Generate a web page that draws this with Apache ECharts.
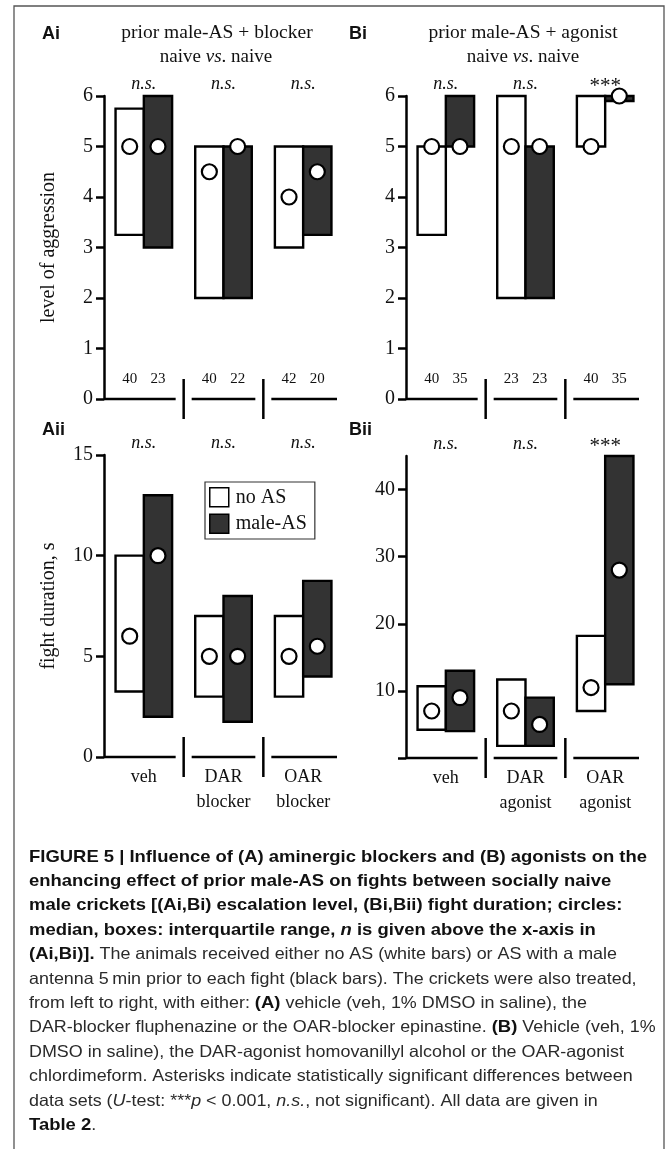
<!DOCTYPE html>
<html><head><meta charset="utf-8">
<script src="https://cdn.jsdelivr.net/npm/echarts@6/dist/echarts.min.js"></script>
<style>html,body{margin:0;padding:0;background:#fff}#c{width:669px;height:1149px}</style>
</head><body><div id="c"></div>
<script>
// ---------- data ----------
const categoriesA = ['veh', 'DAR\nblocker', 'OAR\nblocker'];
const categoriesB = ['veh', 'DAR\nagonist', 'OAR\nagonist'];
// each entry: [Q1, Q3, median]
const aggrA_noAS = [[3.25, 5.75, 5], [2, 5, 4.5], [3, 5, 4]];
const aggrA_male = [[3, 6, 5], [2, 5, 5], [3.25, 5, 4.5]];
const aggrB_noAS = [[3.25, 5, 5], [2, 6, 5], [5, 6, 5]];
const aggrB_male = [[5, 6, 5], [2, 5, 5], [5.9, 6, 6]];
const nA_noAS = [40, 40, 42];
const nA_male = [23, 22, 20];
const nB_noAS = [40, 23, 40];
const nB_male = [35, 23, 35];
const durA_noAS = [[3.25, 10, 6], [3, 7, 5], [3, 7, 5]];
const durA_male = [[2, 13, 10], [1.75, 8, 5], [4, 8.75, 5.5]];
const durB_noAS = [[4.2, 10.7, 7], [1.8, 11.7, 7], [7, 18.2, 10.5]];
const durB_male = [[4, 13, 9], [1.8, 9, 5], [11, 45, 28]];
const sigA_aggr = ['n.s.', 'n.s.', 'n.s.'];
const sigB_aggr = ['n.s.', 'n.s.', '***'];
const sigA_dur = ['n.s.', 'n.s.', 'n.s.'];
const sigB_dur = ['n.s.', 'n.s.', '***'];
const aggrTicks = [0, 1, 2, 3, 4, 5, 6];
const durATicks = [0, 5, 10, 15];
const durBTicks = [0, 10, 20, 30, 40];
const durBLabels = [10, 20, 30, 40];

// ---------- helpers ----------
const SERIF = 'Liberation Serif';
const SANS = 'Liberation Sans';
const DARK = '#333333';

function boxSeries(name, g, data, side, fill) {
  return {
    type: 'custom', name: name, xAxisIndex: g, yAxisIndex: g,
    itemStyle: { color: fill, borderColor: '#000', borderWidth: 1.5 },
    data: data.map((d, i) => [i, d[0], d[1], d[2]]),
    encode: { x: 0, y: [1, 2, 3] },
    z: side < 0 ? 2 : 3,
    renderItem: function (params, api) {
      const c = api.value(0);
      const lo = api.coord([c, api.value(1)]);
      const hi = api.coord([c, api.value(2)]);
      const md = api.coord([c, api.value(3)]);
      const band = api.size([1, 0])[0];
      const w = band * 0.355;
      const x0 = side < 0 ? lo[0] - w : lo[0];
      return { type: 'group', children: [
        { type: 'rect', shape: { x: x0, y: hi[1], width: w, height: lo[1] - hi[1] },
          style: { fill: fill, stroke: '#000', lineWidth: 2.4 } },
        { type: 'circle', shape: { cx: x0 + w / 2, cy: md[1], r: 7.5 },
          style: { fill: '#fff', stroke: '#000', lineWidth: 2.2 } }
      ]};
    }
  };
}

function txt(x, y, text, size, opts) {
  opts = opts || {};
  return { type: 'text', x: x, y: y, style: Object.assign({
    text: text, fill: '#111', fontFamily: SERIF, fontSize: size,
    align: 'center', verticalAlign: 'middle', textAlign: 'center', textVerticalAlign: 'middle'
  }, opts) };
}

function annoSeries(g, sig, yMax, nL, nR) {
  return {
    type: 'custom', xAxisIndex: g, yAxisIndex: g, silent: true, z: 4,
    data: sig.map((s, i) => [i, 0]),
    encode: { x: 0, y: 1 },
    renderItem: function (params, api) {
      const i = api.value(0);
      const p0 = api.coord([i, 0]);
      const pt = api.coord([i, yMax]);
      const band = api.size([1, 0])[0];
      const w = band * 0.355;
      const bs = p0[0] - band / 2, be = p0[0] + band / 2;
      const last = i === sig.length - 1;
      const ch = [];
      ch.push({ type: 'line', shape: { x1: i === 0 ? bs : bs + 8, y1: p0[1], x2: last ? be - 6 : be - 8, y2: p0[1] },
        style: { stroke: '#000', lineWidth: 2.5 } });
      if (i > 0) ch.push({ type: 'line', shape: { x1: bs, y1: p0[1] - 20, x2: bs, y2: p0[1] + 20 },
        style: { stroke: '#000', lineWidth: 2.5 } });
      if (nL) {
        ch.push(txt(p0[0] - w / 2, p0[1] - 20, String(nL[i]), 15));
        ch.push(txt(p0[0] + w / 2, p0[1] - 20, String(nR[i]), 15));
      }
      const s = sig[i];
      if (s === '***') ch.push(txt(p0[0], pt[1] - 10, s, 21));
      else ch.push(txt(p0[0], pt[1] - 12, s, 18, { fontStyle: 'italic' }));
      return { type: 'group', children: ch };
    }
  };
}

function xAx(g, cats, showLabel) {
  return {
    type: 'category', gridIndex: g, data: cats, boundaryGap: true,
    axisLine: { show: false }, axisTick: { show: false }, splitLine: { show: false },
    axisLabel: { show: showLabel, fontFamily: SERIF, fontSize: 18, lineHeight: 25, color: '#111', margin: 8, interval: 0 }
  };
}

function yAx(g, min, max, interval, tickVals, labelVals, name) {
  return {
    type: 'value', gridIndex: g, min: min, max: max, interval: interval,
    name: name || '', nameLocation: 'middle', nameGap: 45,
    nameTextStyle: { fontFamily: SERIF, fontSize: 20, color: '#111' },
    axisLine: { show: true, lineStyle: { color: '#000', width: 2.5 } },
    axisTick: { show: true, inside: false, length: 8, lineStyle: { color: '#000', width: 2.5 }, customValues: tickVals },
    axisLabel: { fontFamily: SERIF, fontSize: 20, color: '#111', margin: 11, customValues: labelVals },
    splitLine: { show: false }
  };
}

// ---------- caption ----------
const captionLines = [
  [['b', 'FIGURE 5 | Influence of (A) aminergic blockers and (B) agonists on the']],
  [['b', 'enhancing effect of prior male-AS on fights between socially naive']],
  [['b', 'male crickets [(Ai,Bi) escalation level, (Bi,Bii) fight duration; circles:']],
  [['b', 'median, boxes: interquartile range, '], ['bi', 'n'], ['b', ' is given above the x-axis in']],
  [['b', '(Ai,Bi)].'], ['r', ' The animals received either no AS (white bars) or AS with a male']],
  [['r', 'antenna 5\u2009min prior to each fight (black bars). The crickets were also treated,']],
  [['r', 'from left to right, with either: '], ['b', '(A)'], ['r', ' vehicle (veh, 1% DMSO in saline), the']],
  [['r', 'DAR-blocker fluphenazine or the OAR-blocker epinastine. '], ['b', '(B)'], ['r', ' Vehicle (veh, 1%']],
  [['r', 'DMSO in saline), the DAR-agonist homovanillyl alcohol or the OAR-agonist']],
  [['r', 'chlordimeform. Asterisks indicate statistically significant differences between']],
  [['r', 'data sets ('], ['i', 'U'], ['r', '-test: ***'], ['i', 'p'], ['r', ' < 0.001, '], ['i', 'n.s.'], ['r', ', not significant). All data are given in']],
  [['b', 'Table 2'], ['r', '.']]
];
const capBold = 17;
const capReg = 16.5;
const capRich = {
  b: { fontFamily: SANS, fontSize: capBold, fontWeight: 'bold', fill: '#111' },
  bi: { fontFamily: SANS, fontSize: capBold, fontWeight: 'bold', fontStyle: 'italic', fill: '#111' },
  r: { fontFamily: SANS, fontSize: capReg, fill: '#2a2a2a' },
  i: { fontFamily: SANS, fontSize: capReg, fontStyle: 'italic', fill: '#2a2a2a' }
};
const labelStyle = { fontFamily: SANS, fontWeight: 'bold', fontSize: 18, fill: '#111', verticalAlign: 'middle', textVerticalAlign: 'middle' };
const titleRich = { n: { fontFamily: SERIF, fontSize: 19, fill: '#111' }, i: { fontFamily: SERIF, fontSize: 19, fontStyle: 'italic', fill: '#111' } };
const graphics = [
  { type: 'rect', silent: true, shape: { x: 14, y: 6, width: 650, height: 1170 },
    style: { fill: 'none', stroke: '#555', lineWidth: 1.3 } },
  { type: 'text', x: 42, y: 34, style: Object.assign({ text: 'Ai' }, labelStyle) },
  { type: 'text', x: 349, y: 34, style: Object.assign({ text: 'Bi' }, labelStyle) },
  { type: 'text', x: 42, y: 430, style: Object.assign({ text: 'Aii' }, labelStyle) },
  { type: 'text', x: 349, y: 430, style: Object.assign({ text: 'Bii' }, labelStyle) },
  txt(217, 33, 'prior male-AS + blocker', 19.5),
  txt(216, 57, '{n|naive }{i|vs}{n|. naive}', 19, { rich: titleRich }),
  txt(523, 33, 'prior male-AS + agonist', 19.5),
  txt(523, 57, '{n|naive }{i|vs}{n|. naive}', 19, { rich: titleRich })
];
captionLines.forEach((segs, k) => {
  graphics.push({ type: 'text', x: 29, y: 857 + k * 24.4, scaleX: 1.085, style: {
    text: segs.map(s => '{' + s[0] + '|' + s[1] + '}').join(''), rich: capRich,
    verticalAlign: 'middle', textVerticalAlign: 'middle', fontFamily: SANS, fontSize: capBold } });
});

// ---------- chart ----------
const chart = echarts.init(document.getElementById('c'), null, { renderer: 'canvas' });
chart.setOption({
  animation: false,
  backgroundColor: '#fff',
  grid: [
    { left: 104, top: 96, width: 239, height: 303 },
    { left: 406, top: 96, width: 239, height: 303 },
    { left: 104, top: 455, width: 239, height: 302 },
    { left: 406, top: 456, width: 239, height: 302 }
  ],
  xAxis: [xAx(0, categoriesA, false), xAx(1, categoriesB, false), xAx(2, categoriesA, true), xAx(3, categoriesB, true)],
  yAxis: [
    yAx(0, 0, 6, 1, aggrTicks, aggrTicks, 'level of aggression'),
    yAx(1, 0, 6, 1, aggrTicks, aggrTicks),
    yAx(2, 0, 15, 5, durATicks, durATicks, 'fight duration, s'),
    yAx(3, 0, 45, 5, durBTicks, durBLabels)
  ],
  legend: {
    data: ['no AS', 'male-AS'], orient: 'vertical', left: 205, top: 482,
    icon: 'rect', itemWidth: 19, itemHeight: 19, itemGap: 6,
    selectedMode: false, padding: [5, 8, 5, 4],
    borderColor: '#333', borderWidth: 1.2, backgroundColor: '#fff',
    itemStyle: { borderColor: '#000', borderWidth: 1.5 },
    textStyle: { fontFamily: SERIF, fontSize: 20, color: '#111', padding: [0, 0, 0, 2] }
  },
  graphic: graphics,
  series: [
    boxSeries('no AS', 0, aggrA_noAS, -1, '#fff'),
    boxSeries('male-AS', 0, aggrA_male, 1, DARK),
    boxSeries('no AS', 1, aggrB_noAS, -1, '#fff'),
    boxSeries('male-AS', 1, aggrB_male, 1, DARK),
    boxSeries('no AS', 2, durA_noAS, -1, '#fff'),
    boxSeries('male-AS', 2, durA_male, 1, DARK),
    boxSeries('no AS', 3, durB_noAS, -1, '#fff'),
    boxSeries('male-AS', 3, durB_male, 1, DARK),
    annoSeries(0, sigA_aggr, 6, nA_noAS, nA_male),
    annoSeries(1, sigB_aggr, 6, nB_noAS, nB_male),
    annoSeries(2, sigA_dur, 15),
    annoSeries(3, sigB_dur, 45)
  ]
});
</script></body></html>
